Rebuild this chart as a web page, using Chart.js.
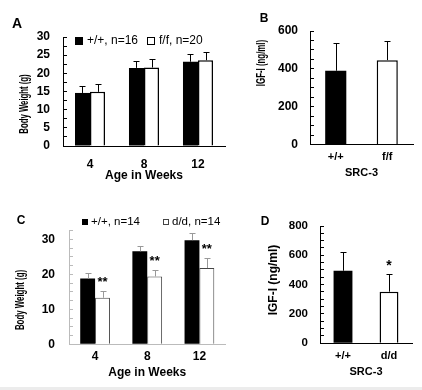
<!DOCTYPE html>
<html>
<head>
<meta charset="utf-8">
<script src="https://cdn.jsdelivr.net/npm/chart.js"></script>
<style>
  body { margin: 0; background: #fff; }
  #figure { position: relative; width: 422px; height: 390px; overflow: hidden; background: #fff; }
  .panel { position: absolute; }
  .edge { position: absolute; left: 0; top: 387px; width: 422px; height: 3px; background: #ececec; }
</style>
</head>
<body>
<div id="figure">
  <div class="panel" style="left:0;top:0;width:230px;height:190px"><canvas id="chartA"></canvas></div>
  <div class="panel" style="left:230px;top:0;width:192px;height:190px"><canvas id="chartB"></canvas></div>
  <div class="panel" style="left:0;top:190px;width:230px;height:200px"><canvas id="chartC"></canvas></div>
  <div class="panel" style="left:230px;top:190px;width:192px;height:200px"><canvas id="chartD"></canvas></div>
  <div class="edge"></div>
</div>

<script>
// ---- data ----
const weeks = ['4', '8', '12'];

// A: body weight, SRC-3 +/+ vs f/f
const bwWildA = [14.6, 21.5, 23.2];
const bwWildAErr = [1.8, 2.0, 2.2];
const bwFloxA = [14.9, 21.6, 23.6];
const bwFloxAErr = [2.1, 2.4, 2.2];
const bwTicksA = [0, 5, 10, 15, 20, 25, 30];

// B: serum IGF-I, +/+ vs f/f
const genotypesB = ['+/+', 'f/f'];
const igfB = [390, 446];
const igfBErr = [146, 101];
const igfTicksB = [0, 200, 400, 600];

// C: body weight, SRC-3 +/+ vs d/d
const bwWildC = [18.8, 26.6, 29.8];
const bwWildCErr = [1.6, 1.4, 1.9];
const bwDelC = [13.3, 19.4, 21.8];
const bwDelCErr = [1.8, 1.8, 2.9];
const sigC = ['**', '**', '**'];
const bwTicksC = [0, 10, 20, 30];

// D: serum IGF-I, +/+ vs d/d
const genotypesD = ['+/+', 'd/d'];
const igfD = [495, 352];
const igfDErr = [126, 118];
const sigD = ['', '*'];
const igfTicksD = [0, 200, 400, 600, 800];

Chart.defaults.font.family = "'Liberation Sans', Arial, sans-serif";
Chart.defaults.color = '#000';
const FONT = "'Liberation Sans', Arial, sans-serif";

// error bars, significance stars, panel letter, y title and legend
const decor = {
  id: 'decor',
  afterDatasetsDraw(chart, args, opts) {
    const ctx = chart.ctx;
    const y = chart.scales.y;
    chart.data.datasets.forEach((ds, di) => {
      const meta = chart.getDatasetMeta(di);
      ctx.save();
      meta.data.forEach((bar, i) => {
        if (ds.errorBars) {
          const top = Math.round(y.getPixelForValue(ds.data[i] + ds.errorBars[i])) + 0.5;
          const x = Math.round(bar.x) + 0.5;
          ctx.strokeStyle = opts.errorColor || '#000';
          ctx.lineWidth = 1;
          ctx.beginPath();
          ctx.moveTo(x, bar.y);
          ctx.lineTo(x, top);
          ctx.moveTo(x - 3, top);
          ctx.lineTo(x + 3, top);
          ctx.stroke();
        }
        if (ds.significance && ds.significance[i]) {
          const top = y.getPixelForValue(ds.data[i] + ds.errorBars[i]);
          ctx.fillStyle = '#000';
          ctx.font = 'bold ' + opts.starSize + 'px ' + FONT;
          ctx.textAlign = 'center';
          ctx.textBaseline = 'middle';
          ctx.fillText(ds.significance[i], bar.x, top - opts.starGap + 2);
        }
      });
      ctx.restore();
    });
  },
  afterDraw(chart, args, opts) {
    const ctx = chart.ctx;
    ctx.save();
    ctx.fillStyle = '#000';
    // panel letter
    ctx.font = 'bold ' + opts.letter.size + 'px ' + FONT;
    ctx.textAlign = 'center';
    ctx.textBaseline = 'middle';
    ctx.fillText(opts.letter.text, opts.letter.x, opts.letter.y);
    // y axis title
    const t = opts.yTitle;
    ctx.save();
    ctx.translate(t.x, t.y);
    ctx.rotate(-Math.PI / 2);
    ctx.scale(t.squeeze, 1);
    ctx.font = 'bold ' + t.size + 'px ' + FONT;
    ctx.fillText(chart.options.scales.y.title.text, 0, 0);
    ctx.restore();
    // legend
    if (opts.legend) {
      const lg = opts.legend;
      ctx.font = lg.size + 'px ' + FONT;
      ctx.textAlign = 'left';
      chart.data.datasets.forEach((ds, i) => {
        const bx = lg.x[i], s = lg.box;
        ctx.fillStyle = ds.backgroundColor;
        ctx.fillRect(bx, lg.y - s / 2, s, s);
        if (ds.borderWidth) {
          ctx.strokeStyle = ds.borderColor;
          ctx.lineWidth = 1;
          ctx.strokeRect(bx + 0.5, lg.y - s / 2 + 0.5, s - 1, s - 1);
        }
        ctx.fillStyle = '#000';
        ctx.fillText(ds.label, bx + s + lg.gap, lg.y);
      });
    }
    ctx.restore();
  }
};
Chart.register(decor);

function yAxis(max, step, labelled, title, width, fontSize, pad, axisColor) {
  return {
    min: 0, max: max,
    grid: { display: true, drawOnChartArea: false, drawTicks: true, tickLength: -4, color: axisColor },
    border: { display: true, color: axisColor, width: 1 },
    ticks: {
      stepSize: step, autoSkip: false, padding: pad, color: '#000',
      font: { size: fontSize, weight: 'bold' },
      callback: v => labelled.some(l => Math.abs(l - v) < 1e-6) ? String(v) : ''
    },
    title: { display: false, text: title },
    afterFit: s => { s.width = width; }
  };
}

function xAxis(title, height, tickSize, tickPad, titleSize, titlePad, axisColor) {
  return {
    grid: { display: false, drawTicks: false },
    border: { display: true, color: axisColor, width: 1 },
    ticks: { padding: tickPad, color: '#000', font: { size: tickSize, weight: 'bold' } },
    title: { display: true, text: title, color: '#000', font: { size: titleSize, weight: 'bold' }, padding: { top: 0, bottom: titlePad } },
    afterFit: s => { s.height = height; }
  };
}

function baseOptions(pad, decorOpts, scales, catPct) {
  return {
    responsive: true,
    maintainAspectRatio: false,
    animation: false,
    layout: { padding: pad },
    datasets: { bar: { categoryPercentage: catPct, barPercentage: 1 } },
    plugins: { legend: { display: false }, tooltip: { enabled: false }, decor: decorOpts },
    scales: scales
  };
}

// A
new Chart(document.getElementById('chartA'), {
  type: 'bar',
  data: {
    labels: weeks,
    datasets: [
      { label: '+/+, n=16', data: bwWildA, errorBars: bwWildAErr, backgroundColor: '#000', borderColor: '#000', borderWidth: 0 },
      { label: 'f/f, n=20', data: bwFloxA, errorBars: bwFloxAErr, backgroundColor: '#fff', borderColor: '#000', borderWidth: 1.5 }
    ]
  },
  options: baseOptions(
    { left: 0, right: 5, top: 37, bottom: 0 },
    { letter: { text: 'A', x: 17, y: 24, size: 14 },
      yTitle: { x: 25, y: 104, size: 12.5, squeeze: 0.62 },
      legend: { x: [75, 147], y: 41, box: 8, gap: 4, size: 12 },
      errorColor: '#000', starSize: 13, starGap: 11 },
    { x: xAxis('Age in Weeks', 44, 12, 11, 12, 7, '#000'),
      y: yAxis(30, 2.5, bwTicksA, 'Body Weight (g)', 63, 12, 17, '#000') },
    0.556)
});

// B
new Chart(document.getElementById('chartB'), {
  type: 'bar',
  data: {
    labels: genotypesB,
    datasets: [
      { label: 'IGF-I', data: igfB, errorBars: igfBErr, backgroundColor: ['#000', '#fff'], borderColor: '#000', borderWidth: [0, 1.5] }
    ]
  },
  options: baseOptions(
    { left: 0, right: 9, top: 31, bottom: 0 },
    { letter: { text: 'B', x: 34, y: 19, size: 12 },
      yTitle: { x: 32, y: 63, size: 12.5, squeeze: 0.63 },
      errorColor: '#000', starSize: 13, starGap: 11 },
    { x: xAxis('SRC-3', 45.5, 11, 6, 11, 10, '#000'),
      y: yAxis(600, 50, igfTicksB, 'IGF-I (ng/ml)', 80, 12, 16, '#000') },
    0.41)
});

// C
new Chart(document.getElementById('chartC'), {
  type: 'bar',
  data: {
    labels: weeks,
    datasets: [
      { label: '+/+, n=14', data: bwWildC, errorBars: bwWildCErr, backgroundColor: '#000', borderColor: '#000', borderWidth: 0 },
      { label: 'd/d, n=14', data: bwDelC, errorBars: bwDelCErr, significance: sigC, backgroundColor: '#fff', borderColor: '#444', borderWidth: 1 }
    ]
  },
  options: baseOptions(
    { left: 0, right: 4.5, top: 40.7, bottom: 0 },
    { letter: { text: 'C', x: 21, y: 31, size: 12 },
      yTitle: { x: 21, y: 110, size: 12.5, squeeze: 0.63 },
      legend: { x: [82, 163], y: 32, box: 6, gap: 3, size: 11.5 },
      errorColor: '#999', starSize: 13, starGap: 11 },
    { x: xAxis('Age in Weeks', 45.8, 12, 5, 12, 10, '#bbb'),
      y: yAxis(32.5, 2.5, bwTicksC, 'Body Weight (g)', 69, 12, 18, '#bbb') },
    0.57)
});

// D
new Chart(document.getElementById('chartD'), {
  type: 'bar',
  data: {
    labels: genotypesD,
    datasets: [
      { label: 'IGF-I', data: igfD, errorBars: igfDErr, significance: sigD, backgroundColor: ['#000', '#fff'], borderColor: '#000', borderWidth: [0, 1.5] }
    ]
  },
  options: baseOptions(
    { left: 0, right: 10, top: 36, bottom: 0 },
    { letter: { text: 'D', x: 35, y: 32, size: 12 },
      yTitle: { x: 44, y: 90, size: 12, squeeze: 1 },
      errorColor: '#000', starSize: 14, starGap: 10 },
    { x: xAxis('SRC-3', 46.7, 11, 6, 11, 11, '#000'),
      y: yAxis(800, 50, igfTicksD, 'IGF-I (ng/ml)', 90, 11.5, 16, '#000') },
    0.41)
});
</script>
</body>
</html>
